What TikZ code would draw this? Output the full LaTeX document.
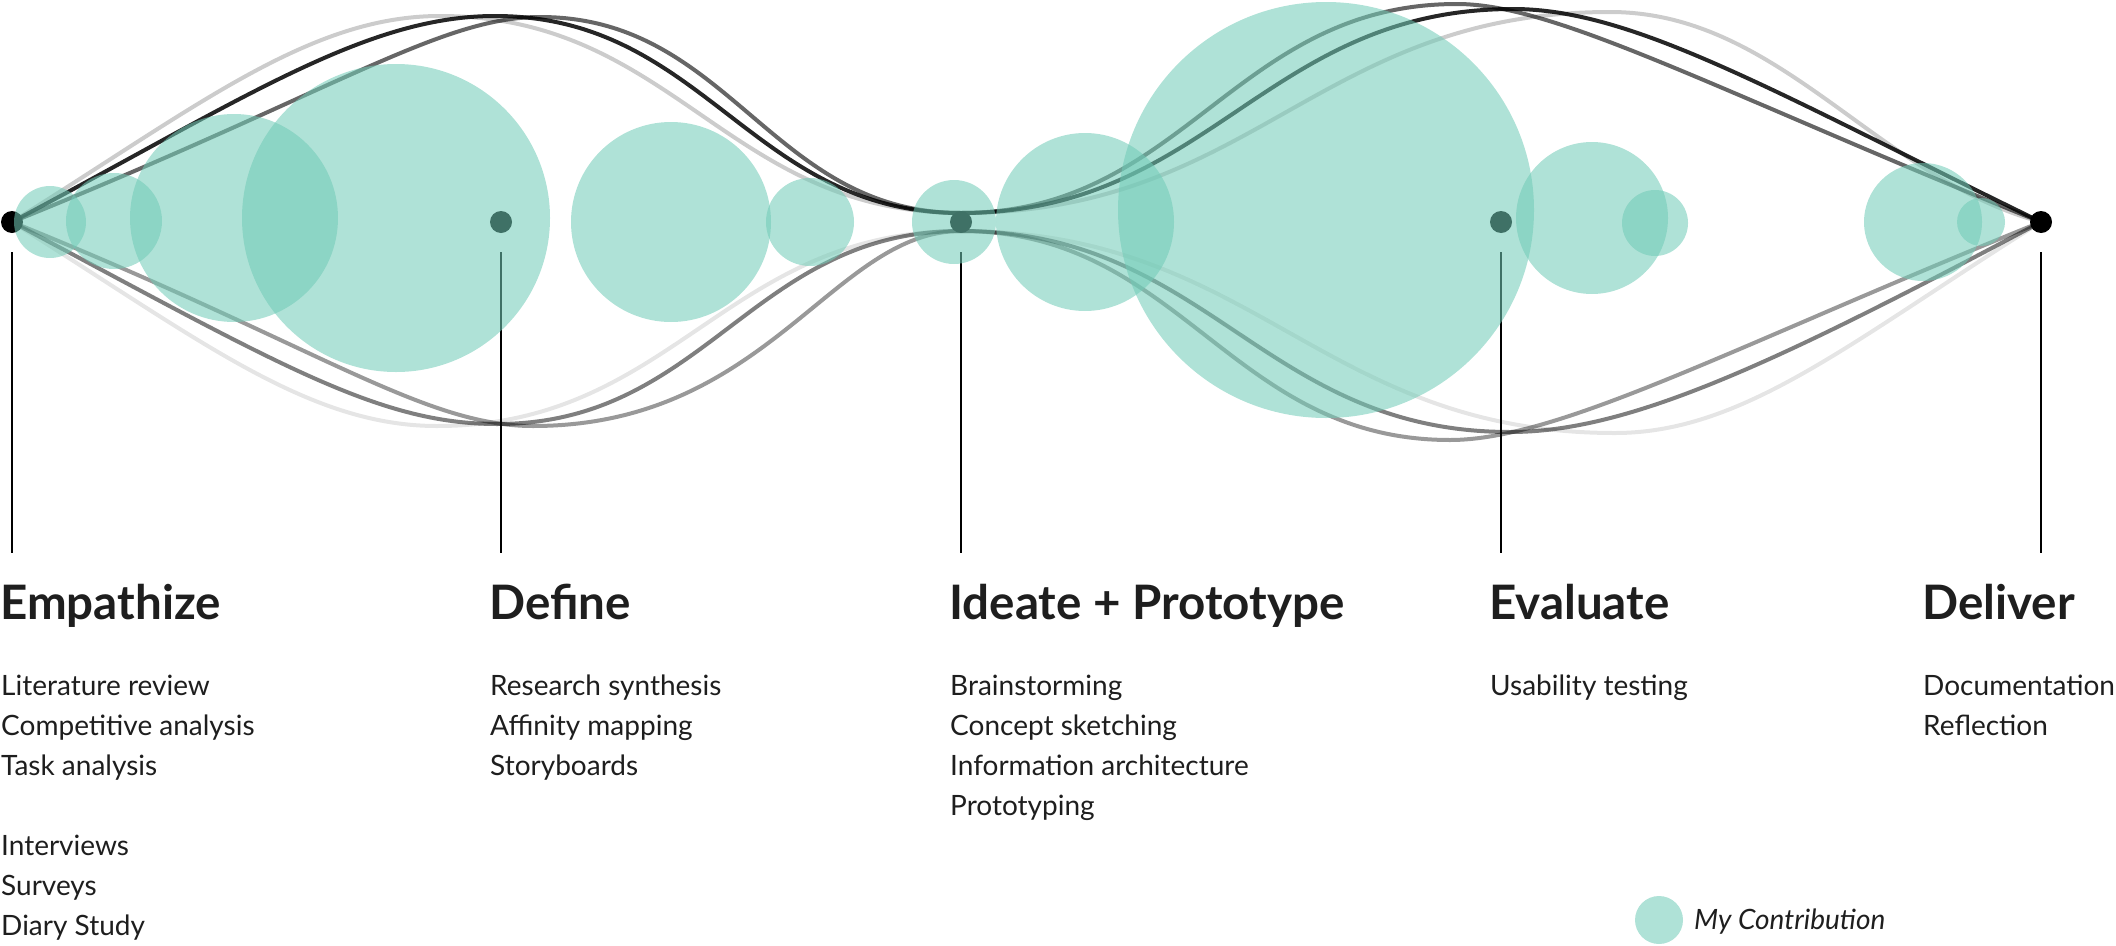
\documentclass[tikz,border=0pt]{standalone}
\usepackage{fontspec}
\setmainfont{Lato}
\definecolor{mint}{RGB}{113,203,183}
\definecolor{ink}{RGB}{30,30,30}
\begin{document}
\begin{tikzpicture}[x=1pt,y=-1pt,
  dot/.style={circle,fill=black,minimum size=22pt,inner sep=0pt},
  bubble/.style={fill=mint,fill opacity=0.56},
  wave/.style={draw=black,line width=4pt,line cap=round},
  stem/.style={draw=black,line width=2pt},
  phase/.style={anchor=base west,inner sep=0pt,text=ink,font=\fontsize{47.5}{56}\selectfont\bfseries},
  item/.style={anchor=base west,inner sep=0pt,text=ink,font=\fontsize{28}{34}\selectfont},
  legendtext/.style={anchor=base west,inner sep=0pt,text=ink,font=\fontsize{28}{34}\selectfont\itshape}
]
\useasboundingbox (0,0) rectangle (2116,945);

% stage markers on the axis
\node[dot] (L) at (12,222) {};
\node[dot] (D) at (501,222) {};
\node[dot] (I) at (961,222) {};
\node[dot] (E) at (1501,222) {};
\node[dot] (R) at (2041,222) {};

% upper strands
\draw[wave,draw opacity=0.2] (L.center)
  .. controls +(186.6,-116.6) and +(-130,0) .. (440,16)
  .. controls +(234,0) and +(-234,0) .. (961,213)
  .. controls +(292,0) and +(-292,0) .. (1610,12)
  .. controls +(170,0) and +(-164,-44) .. (R.center);
\draw[wave,draw opacity=0.85] (L.center)
  .. controls +(229.6,-122) and +(-130,0) .. (495,16)
  .. controls +(210,0) and +(-210,0) .. (961,213)
  .. controls +(248,0) and +(-248,0) .. (1513,9)
  .. controls +(120,0) and +(-269.6,-131.5) .. (R.center);
\draw[wave,draw opacity=0.6] (L.center)
  .. controls +(324.5,-131) and +(-100,0) .. (540,17)
  .. controls +(190,0) and +(-190,0) .. (961,213)
  .. controls +(223,0) and +(-223,0) .. (1457,4)
  .. controls +(100,0) and +(-324.5,-131) .. (R.center);

% lower strands
\draw[wave,draw opacity=0.1] (L.center)
  .. controls +(186.6,116.6) and +(-130,0) .. (437,426)
  .. controls +(236,0) and +(-236,0) .. (961,231)
  .. controls +(294,0) and +(-294,0) .. (1615,433)
  .. controls +(130,0) and +(-186.6,116.6) .. (R.center);
\draw[wave,draw opacity=0.5] (L.center)
  .. controls +(265,141) and +(-120,0) .. (497,424)
  .. controls +(209,0) and +(-209,0) .. (961,231)
  .. controls +(247,0) and +(-247,0) .. (1510,432)
  .. controls +(120,0) and +(-265,141) .. (R.center);
\draw[wave,draw opacity=0.4] (L.center)
  .. controls +(306,123.6) and +(-110,0) .. (533,426)
  .. controls +(235,0) and +(-128,0) .. (961,231)
  .. controls +(220,0) and +(-220,0) .. (1450,440)
  .. controls +(110,0) and +(-306,123.6) .. (R.center);

% drop lines under each stage
\foreach \n in {L,D,I,E,R}
  \draw[stem] ([yshift=-30pt]\n.center) -- ++(0,301);

% contribution bubbles
\fill[bubble] (50,222) circle[radius=36];
\fill[bubble] (114,221) circle[radius=48];
\fill[bubble] (234,218) circle[radius=104];
\fill[bubble] (396,218) circle[radius=154];
\fill[bubble] (671,222) circle[radius=100];
\fill[bubble] (810,222) circle[radius=44];
\fill[bubble] (954,222) circle[radius=42];
\fill[bubble] (1085,222) circle[radius=89];
\fill[bubble] (1326,210) circle[radius=208];
\fill[bubble] (1592,218) circle[radius=76];
\fill[bubble] (1655,223) circle[radius=33];
\fill[bubble] (1923,222) circle[radius=59];
\fill[bubble] (1981,222) circle[radius=24];

% stage titles
\node[phase] (tEmp) at (0,619) {Empathize};
\node[phase] (tDef) at (489,619) {Define};
\node[phase] (tIde) at (949,619) {Ideate + Prototype};
\node[phase] (tEva) at (1489,619) {Evaluate};
\node[phase] (tDel) at (1922,619) {Deliver};

% methods per stage
\foreach \t [count=\i] in {Literature review,Competitive analysis,Task analysis}
  \node[item] (emp\i) at (1,655+40*\i) {\t};
\foreach \t [count=\i] in {Interviews,Surveys,Diary Study}
  \node[item] (empb\i) at (1,815+40*\i) {\t};
\foreach \t [count=\i] in {Research synthesis,Affinity mapping,Storyboards}
  \node[item] (def\i) at (490,655+40*\i) {\t};
\foreach \t [count=\i] in {Brainstorming,Concept sketching,Information architecture,Prototyping}
  \node[item] (ide\i) at (950,655+40*\i) {\t};
\node[item] (eva1) at (1490,695) {Usability testing};
\foreach \t [count=\i] in {Documentation,Reflection}
  \node[item] (del\i) at (1923,655+40*\i) {\t};

% legend
\fill[bubble] (1659,920) circle[radius=24];
\node[legendtext] (leg) at (1694,929) {My Contribution};
\end{tikzpicture}
\end{document}
